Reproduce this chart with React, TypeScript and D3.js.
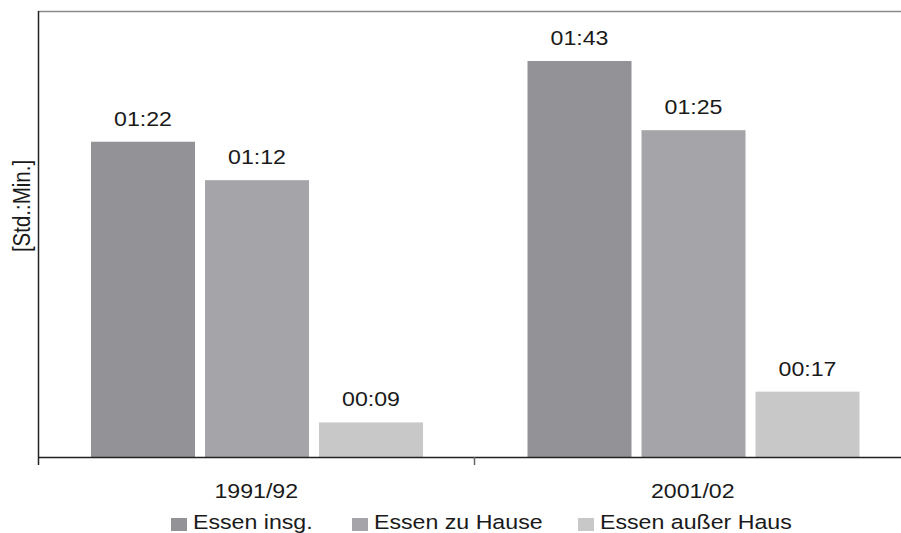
import React from "react";
import * as d3 from "d3";

const groups = ["1991/92", "2001/02"];
const seriesNames = ["Essen insg.", "Essen zu Hause", "Essen außer Haus"];
const values1991 = [82, 72, 9]; // minutes
const values2001 = [103, 85, 17];
const seriesColors = ["#939397", "#a5a5a9", "#c8c8c9"];

const W = 901;
const H = 533;
const FONT = "'Liberation Sans', Arial, Helvetica, sans-serif";
const SX = 1.13;
const FS = 20.5;

function fmt(m: number) {
  const h = Math.floor(m / 60);
  const mm = m % 60;
  return d3.format("02d")(h) + ":" + d3.format("02d")(mm);
}

function T({ x, y, children, anchor = "middle" }: any) {
  return (
    <text
      transform={`translate(${x},${y}) scale(${SX},1)`}
      textAnchor={anchor}
      fontFamily={FONT}
      fontSize={FS}
      fill="#1a1a1a"
    >
      {children}
    </text>
  );
}

export default function App() {
  const data = [values1991, values2001];
  const x0 = d3.scaleBand<string>().domain(groups).range([38, 911]);
  const x1 = d3
    .scaleBand<string>()
    .domain(seriesNames)
    .range([53, 385])
    .paddingInner(0.0877);
  const y = d3.scaleLinear().domain([0, 116]).range([457, 11]);

  const legendX = [171, 352, 578];

  return (
    <div style={{ position: "absolute", left: 0, top: 0 }}>
      <svg width={W} height={H} style={{ display: "block", background: "#fff" }}>
        <line x1={38} x2={W} y1={11.5} y2={11.5} stroke="#8a8a8a" strokeWidth={1.5} />
        {groups.map((g, gi) =>
          seriesNames.map((s, si) => {
            const v = data[gi][si];
            const bx = (x0(g) as number) + (x1(s) as number);
            const bw = x1.bandwidth();
            return (
              <g key={g + s}>
                <rect
                  x={bx}
                  y={y(v)}
                  width={bw}
                  height={y(0) - y(v)}
                  fill={seriesColors[si]}
                />
                <T x={bx + bw / 2} y={y(v) - 16}>
                  {fmt(v)}
                </T>
              </g>
            );
          })
        )}
        <line x1={38.5} x2={38.5} y1={11} y2={465} stroke="#222" strokeWidth={1.5} />
        <line x1={38} x2={W} y1={457.5} y2={457.5} stroke="#222" strokeWidth={1.5} />
        {groups.slice(1).map((g) => (
          <line
            key={g}
            x1={x0(g) as number}
            x2={x0(g) as number}
            y1={457}
            y2={465}
            stroke="#666"
            strokeWidth={1.5}
          />
        ))}
        {groups.map((g) => (
          <T key={g} x={(x0(g) as number) + x0.bandwidth() / 2} y={498}>
            {g}
          </T>
        ))}
        <text
          transform={`translate(30,206) rotate(-90) scale(1,${SX})`}
          textAnchor="middle"
          fontFamily={FONT}
          fontSize={FS}
          fill="#1a1a1a"
        >
          [Std.:Min.]
        </text>
        {seriesNames.map((s, i) => (
          <g key={s}>
            <rect x={legendX[i]} y={518} width={16} height={13} fill={seriesColors[i]} />
            <T x={legendX[i] + 22} y={529} anchor="start">
              {s}
            </T>
          </g>
        ))}
      </svg>
    </div>
  );
}
